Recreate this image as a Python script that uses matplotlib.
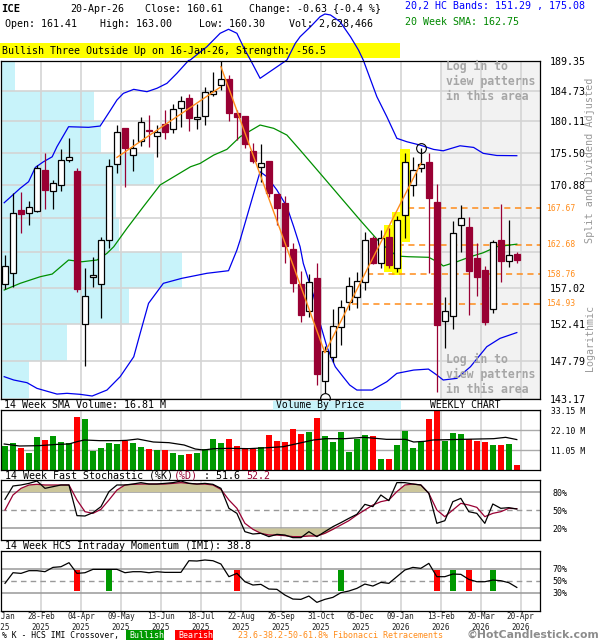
import numpy as np
import matplotlib
matplotlib.use("Agg")
import matplotlib.pyplot as plt
from matplotlib.patches import Rectangle
from matplotlib.transforms import blended_transform_factory
from matplotlib.ticker import NullLocator, NullFormatter

plt.rcParams['font.family'] = ['DejaVu Sans Mono', 'DejaVu Sans']

# ---- weekly candles (ICE, 31-Jan-2025 .. 20-Apr-2026) ----
opens = [157.44, 158.88, 167.40, 166.94, 167.26, 173.02, 170.01, 170.94, 174.45, 172.88,
         152.37, 158.35, 157.44, 163.30, 173.83, 179.08, 175.17, 177.17, 178.79, 177.95,
         179.67, 178.93, 182.06, 183.57, 180.41, 180.96, 184.23, 185.56, 186.48, 181.31,
         180.90, 175.80, 173.40, 174.35, 169.64, 168.33, 162.05, 157.48, 154.00, 158.22,
         145.40, 148.27, 152.02, 155.19, 155.80, 157.78, 163.61, 160.27, 163.75, 159.53,
         166.71, 170.84, 173.26, 174.20, 168.55, 152.74, 153.37, 165.34, 165.03, 160.85,
         159.31, 154.22, 163.30, 160.50, 161.41]
highs = [161.30, 169.81, 169.87, 168.61, 173.73, 175.42, 171.60, 176.09, 177.65, 173.31,
         159.53, 161.07, 163.75, 174.59, 179.57, 179.08, 177.51, 180.73, 181.07, 179.57,
         181.81, 182.71, 183.93, 184.18, 182.71, 185.34, 187.57, 189.30, 187.15, 181.81,
         180.90, 176.97, 176.78, 174.35, 169.64, 169.36, 162.86, 159.22, 158.78, 160.28,
         149.62, 154.26, 155.41, 158.43, 159.09, 164.43, 163.84, 164.66, 164.89, 166.57,
         175.51, 174.84, 176.19, 175.42, 171.03, 155.83, 165.88, 168.09, 166.48, 162.86,
         159.84, 163.30, 168.23, 166.02, 161.70]
lows = [156.83, 157.13, 164.29, 165.37, 167.12, 167.58, 167.58, 170.09, 174.20, 156.48,
        147.21, 157.13, 153.08, 162.19, 172.64, 170.68, 172.92, 176.49, 176.39, 174.84,
        177.55, 178.35, 179.32, 178.73, 179.02, 179.64, 183.93, 184.84, 180.16, 177.36,
        176.15, 173.97, 171.36, 169.18, 165.32, 160.27, 156.40, 152.66, 153.21, 144.88,
        143.90, 147.69, 149.74, 154.13, 154.38, 156.70, 160.10, 159.53, 159.53, 159.09,
        163.53, 169.39, 172.74, 158.88, 144.04, 149.34, 151.70, 161.73, 153.50, 155.92,
        152.24, 153.79, 157.78, 159.75, 160.30]
closes = [159.84, 166.94, 166.81, 167.86, 173.26, 170.19, 171.14, 174.45, 174.84, 156.79,
          155.92, 158.65, 163.30, 173.59, 178.49, 176.24, 176.15, 179.99, 178.69, 178.54,
          178.49, 181.91, 183.22, 180.56, 180.80, 184.58, 184.73, 186.48, 181.31, 180.71,
          176.74, 174.35, 173.97, 169.73, 167.64, 162.53, 157.57, 153.50, 157.70, 146.20,
          149.01, 152.07, 154.48, 157.22, 157.87, 163.30, 160.27, 163.61, 159.97, 166.02,
          174.11, 172.98, 173.83, 169.02, 152.24, 153.96, 164.21, 166.25, 159.22, 158.43,
          152.66, 163.07, 160.54, 161.30, 160.61]
volumes = [13.26, 14.92, 12.16, 9.39, 18.23, 16.58, 18.79, 15.47, 14.92, 29.28,
           28.18, 10.50, 12.16, 14.92, 14.37, 16.20, 14.92, 12.71, 11.60, 11.05,
           11.05, 9.39, 8.29, 8.84, 9.39, 11.60, 17.13, 14.92, 17.13, 13.26,
           11.60, 11.60, 12.71, 19.34, 16.02, 15.47, 22.65, 19.89, 20.99, 28.73,
           18.79, 15.47, 20.99, 9.95, 17.13, 19.34, 18.79, 6.08, 6.08, 13.81,
           21.55, 12.16, 15.47, 28.18, 32.60, 16.02, 20.44, 19.89, 17.13, 16.02,
           15.47, 13.81, 13.81, 14.37, 2.76]

# ---- overlays (week index, value) ----
upper_k = [-0.1, 1.9, 2.95, 3.8, 4.8, 5.9, 6.5, 7.95, 10.45, 11.9, 13.2, 14.0, 14.8, 16.1,
           17.75, 19.0, 20.25, 21.5, 22.95, 23.16, 25.25, 26.9, 27.95, 29.0, 30.0, 30.7,
           31.9, 35.25, 36.3, 36.9, 38.2, 39.4, 40.0, 40.7, 41.9, 43.2, 44.2, 44.8, 46.5,
           47.75, 49.0, 50.25, 51.9, 53.6, 54.8, 56.9, 58.6, 59.8, 61.5, 64.0]
upper_p = [168.41, 170.43, 171.36, 173.40, 174.20, 174.92, 176.39, 179.32, 179.23, 179.42,
           181.81, 183.32, 184.33, 184.94, 184.58, 185.10, 185.86, 187.41, 189.40, 189.47,
           191.57, 193.70, 194.34, 193.70, 191.04, 189.47, 186.63, 189.47, 192.10, 193.15,
           194.75, 196.37, 196.81, 196.65, 195.56, 193.15, 191.04, 189.47, 183.82, 180.80,
           177.61, 177.11, 176.62, 175.99, 175.79, 176.52, 176.28, 175.42, 175.11, 175.08]
lower_k = [-0.1, 1.1, 2.75, 4.0, 6.5, 7.75, 9.4, 10.9, 12.75, 14.4, 16.1, 16.9, 17.95, 19.8,
           22.1, 25.25, 27.95, 29.0, 29.4, 31.1, 31.9, 32.75, 34.0, 35.25, 36.1, 36.9, 37.3,
           38.6, 39.4, 40.25, 41.3, 42.3, 43.1, 44.0, 45.9, 47.75, 49.0, 51.1, 52.95, 54.0,
           54.8, 56.5, 58.2, 60.25, 61.9, 64.0]
lower_p = [145.88, 145.48, 145.16, 144.48, 143.80, 143.89, 143.77, 143.57, 144.28, 145.88,
           148.30, 151.19, 154.99, 157.57, 158.22, 158.88, 159.22, 161.96, 163.30, 169.73,
           172.78, 172.07, 170.19, 167.86, 165.12, 162.40, 160.19, 155.92, 152.45, 149.54,
           147.08, 145.84, 144.88, 144.28, 144.28, 145.28, 146.28, 146.68, 146.80, 146.08,
           145.48, 145.68, 147.08, 149.54, 150.57, 151.29]
sma_k = [-0.1, 1.9, 4.4, 5.9, 7.95, 9.6, 11.5, 12.75, 13.6, 15.25, 17.3, 19.4, 23.2, 24.4,
         26.1, 27.75, 29.4, 31.9, 33.6, 35.25, 36.9, 39.4, 41.9, 44.4, 46.9, 49.0, 50.45,
         53.0, 54.4, 54.8, 56.5, 58.2, 59.8, 61.5, 64.0]
sma_p = [156.70, 157.57, 158.43, 158.78, 160.63, 160.40, 160.63, 161.52, 162.41, 164.89,
         167.86, 170.90, 173.49, 173.97, 175.17, 176.00, 177.84, 179.57, 179.08, 178.09,
         175.90, 172.55, 169.25, 166.02, 162.94, 161.16, 161.07, 160.99, 160.19, 159.84,
         160.40, 161.07, 161.60, 162.41, 162.75]
zig_a_k = [14.0, 26.9]
zig_a_p = [174.84, 185.25]
zig_b_k = [27.0, 40.0, 52.0]
zig_b_p = [188.43, 148.80, 173.97]
fib_levels = [167.67, 162.68, 158.76, 154.93]
fib_start = [50.4, 47.75, 45.25, 43.4]
pattern_k = [48, 49, 50]
swing_high = (52, 176.15)
swing_low = (40, 143.33)

price_ticks = [189.35, 184.73, 180.11, 175.50, 170.88, 166.26, 161.64, 157.02, 152.41, 147.79, 143.17]
price_labels = ['189.35', '184.73', '180.11', '175.50', '170.88', '', '', '157.02', '152.41', '147.79', '143.17']
vbp_volume = [14, 93, 100, 153, 115, 118, 181, 128, 66, 28]   # top band first

vsma_k = [-0.1, 1.8, 4.2, 6.6, 8.0, 9.0, 9.9, 11.85, 14.2, 15.2, 16.6, 18.55, 20.5, 22.4,
          23.8, 24.8, 26.2, 28.1, 30.5, 32.9, 34.8, 36.7, 38.6, 40.1, 42.5, 44.9, 46.8,
          47.7, 50.1, 51.1, 52.5, 53.5, 55.4, 57.3, 59.2, 61.1, 62.6, 64.0]
vsma_v = [14.37, 13.26, 13.44, 14.18, 14.37, 15.65, 16.58, 16.21, 16.21, 16.39, 17.13,
          15.47, 15.10, 13.81, 11.60, 11.05, 11.79, 11.97, 11.79, 12.34, 12.89, 14.73,
          16.58, 17.31, 17.31, 18.05, 17.31, 16.94, 16.94, 15.47, 15.84, 16.58, 16.76,
          16.94, 17.13, 17.31, 18.05, 16.81]

stoch_k = [67.8, 90.0, 91.7, 94.4, 98.3, 86.1, 88.9, 91.7, 91.7, 40.6, 40.0, 45.6, 55.6,
           80.6, 91.7, 91.7, 93.3, 95.6, 93.3, 93.3, 94.4, 95.6, 98.3, 94.4, 93.3, 94.4,
           92.8, 86.1, 52.8, 44.4, 13.9, 10.0, 11.1, 5.6, 9.4, 8.3, 3.9, 3.9, 13.9, 5.6,
           13.9, 22.2, 28.9, 36.1, 42.8, 59.4, 55.6, 75.0, 65.6, 95.6, 95.6, 93.3, 91.7,
           77.8, 27.8, 32.2, 63.9, 69.4, 47.2, 44.4, 27.8, 60.0, 52.8, 53.9, 51.6]
stoch_d = [50.0, 75.0, 86.1, 91.7, 92.8, 91.7, 91.7, 91.7, 91.7, 66.7, 47.2, 44.4, 51.1,
           66.7, 83.3, 91.7, 92.8, 93.3, 93.3, 93.3, 93.3, 94.4, 95.6, 94.4, 93.3, 93.3,
           91.7, 84.4, 66.7, 52.8, 27.8, 17.8, 11.1, 8.3, 8.3, 7.2, 5.6, 5.6, 6.7, 6.7,
           11.1, 17.8, 25.0, 32.2, 41.7, 50.0, 58.3, 63.9, 66.7, 80.6, 91.7, 93.3, 91.7,
           77.8, 50.0, 38.9, 50.0, 61.1, 58.3, 54.4, 38.9, 44.4, 47.2, 52.8, 52.2]
imi = [45.6, 63.3, 62.2, 66.7, 66.7, 65.0, 72.2, 73.3, 80.0, 62.2, 63.3, 68.9, 68.9, 68.9,
       68.9, 63.3, 65.0, 65.0, 63.3, 65.0, 63.9, 63.9, 63.9, 83.3, 82.8, 84.5, 83.3, 77.8,
       56.7, 62.2, 48.3, 42.8, 43.9, 36.1, 35.6, 26.1, 19.4, 18.9, 24.4, 13.9, 18.9, 22.2,
       30.0, 32.8, 37.2, 44.4, 41.1, 47.2, 45.6, 56.7, 67.8, 72.2, 70.6, 78.9, 56.7, 56.7,
       61.1, 60.6, 52.2, 48.3, 48.3, 51.1, 50.0, 46.7, 38.8]
cross_k = [9, 13, 29, 42, 54, 56, 58, 61]
cross_bull = [False, True, False, True, False, True, False, True]

date_labels = ['31-Jan\n2025', '28-Feb\n2025', '04-Apr\n2025', '09-May\n2025', '13-Jun\n2025',
               '18-Jul\n2025', '22-Aug\n2025', '26-Sep\n2025', '31-Oct\n2025', '05-Dec\n2025',
               '09-Jan\n2026', '13-Feb\n2026', '20-Mar\n2026', '20-Apr\n2026']

# ---- styling ----
W, H = 600, 640
maroon = '#990033'
up_green = '#009900'
dn_red = '#ff0000'
band_blue = '#0000ee'
sma_green = '#008f00'
orange = '#ff8c1a'
olive = '#ccc69a'
grid_col = '#d4d4d4'
xlim = (-0.46, 66.9)
grid_k = np.arange(-0.5, 65, 5)
idx = np.arange(len(closes))

fig = plt.figure(figsize=(6, 6.4), dpi=100)


def px_axes(x0, y0, x1, y1):
    return fig.add_axes([x0 / W, 1 - y1 / H, (x1 - x0) / W, (y1 - y0) / H])


def ftext(x, y, s, **kw):
    kw.setdefault('size', 7.2)
    return fig.text(x / W, 1 - y / H, s, va='center', **kw)


def frame(a):
    for sp in a.spines.values():
        sp.set_color('black')
        sp.set_linewidth(0.9)
    a.set_xlim(*xlim)
    a.set_xticks(grid_k)
    a.tick_params(length=0, labelsize=6)
    a.grid(axis='x', color=grid_col, lw=1.2)
    a.set_axisbelow(True)


# ================= price panel =================
ax = px_axes(1, 60.8, 540, 399.4)
ax.set_yscale('log')
ax.set_ylim(143.17, 189.35)
frame(ax)
ax.set_xticklabels([])
ax.yaxis.tick_right()
ax.set_yticks(price_ticks)
ax.set_yticklabels(price_labels)
ax.yaxis.set_minor_locator(NullLocator())
ax.yaxis.set_minor_formatter(NullFormatter())
ax.tick_params(axis='y', labelsize=7.2, pad=6.7)
ax.grid(axis='y', color=grid_col, lw=1.2)

# volume by price
blend = blended_transform_factory(ax.transAxes, ax.transData)
for i, v in enumerate(vbp_volume):
    top, bot = price_ticks[i], price_ticks[i + 1]
    ax.add_patch(Rectangle((0, bot), v / 539, top - bot, transform=blend,
                           facecolor='#c8f3fa', edgecolor='none', zorder=0.2))

# members-only area
ax.axvspan(54.5, xlim[1], color='#f2f2f2', zorder=0.1, lw=0)
for yy in (66.7, 359.3):
    for j, line in enumerate(['Log in to', 'view patterns', 'in this area']):
        ftext(446.5, yy + 15 * j, line, color='#a6a6a6', weight='bold', size=8.3)

# pattern highlight
for k in pattern_k:
    lo, hi = lows[k] * 0.997, highs[k] * 1.003
    ax.add_patch(Rectangle((k - 0.66, lo), 1.32, hi - lo, facecolor='#ffff00',
                           edgecolor='none', zorder=1))

# fibonacci levels
for lvl, k0 in zip(fib_levels, fib_start):
    ax.hlines(lvl, k0, xlim[1], colors=orange, linestyles=(0, (4, 3)), lw=1.1, zorder=2)
    ax.text(1 + 6 / 539, lvl, f'{lvl:.2f}', transform=blend, color=orange,
            size=5.8, va='center', ha='left', clip_on=False)

ax.plot(upper_k, upper_p, color=band_blue, lw=0.9, zorder=2, clip_on=False)
ax.plot(lower_k, lower_p, color=band_blue, lw=0.9, zorder=2)
ax.plot(sma_k, sma_p, color=sma_green, lw=0.9, zorder=2)
ax.plot(zig_a_k, zig_a_p, color=orange, lw=1.0, zorder=5)
ax.plot(zig_b_k, zig_b_p, color=orange, lw=1.0, zorder=5)

# candles
bw = 0.68
for i in idx:
    o, h, l, c = opens[i], highs[i], lows[i], closes[i]
    up = c >= o
    col = 'black' if up else maroon
    ax.vlines(i, l, h, colors=col, lw=0.9, zorder=3)
    lo_b, hi_b = min(o, c), max(o, c)
    if hi_b - lo_b < 0.15:
        hi_b = lo_b + 0.15
    ax.add_patch(Rectangle((i - bw / 2, lo_b), bw, hi_b - lo_b,
                           facecolor='white' if up else maroon, edgecolor=col,
                           lw=0.9, zorder=4))

ax.plot(*swing_high, marker='o', ms=7, mfc='none', mec='black', mew=0.8, zorder=6)
ax.plot(*swing_low, marker='o', ms=7, mfc='none', mec='black', mew=0.8, zorder=6,
        clip_on=False)

fig.text(590 / W, 1 - 160 / H, 'Split and Dividend Adjusted', rotation=90,
         color='#999999', size=7.3, ha='center', va='center')
fig.text(590 / W, 1 - 338 / H, 'Logarithmic', rotation=90,
         color='#999999', size=7.2, ha='center', va='center')

# ================= header =================
ftext(1, 9.3, 'ICE', weight='bold', size=7.6)
ftext(70, 9.3, '20-Apr-26')
ftext(145, 9.3, 'Close: 160.61')
ftext(249, 9.3, 'Change: -0.63 {-0.4 %}')
ftext(5, 24, 'Open: 161.41')
ftext(100, 24, 'High: 163.00')
ftext(199, 24, 'Low: 160.30')
ftext(289, 24, 'Vol: 2,628,466')
ftext(405, 6.5, '20,2 HC Bands: 151.29 , 175.08', color='#0000ff')
ftext(405, 21.7, '20 Week SMA: 162.75', color='#008800')
fig.add_artist(Rectangle((0, 1 - 57.7 / H), 400 / W, 14.4 / H, transform=fig.transFigure,
                         facecolor='#ffff00', edgecolor='none', zorder=0))
ftext(2, 51, 'Bullish Three Outside Up on 16-Jan-26, Strength: -56.5')

# ================= volume panel =================
av = px_axes(1, 410, 540, 470)
frame(av)
av.set_xticklabels([])
av.set_ylim(0, 33.15)
av.yaxis.tick_right()
av.set_yticks([11.05, 22.10, 33.15])
av.set_yticklabels(['11.05 M', '22.10 M', '33.15 M'])
av.tick_params(axis='y', labelsize=5.8, pad=8)
av.grid(axis='y', color='#aaaaaa', lw=1.0)
vcols = [up_green if c >= o else dn_red for o, c in zip(opens, closes)]
av.bar(idx, volumes, width=0.74, color=vcols, zorder=2)
av.plot(vsma_k, vsma_v, color='black', lw=0.9, zorder=3)

ftext(4, 405.5, '14 Week SMA Volume: 16.81 M', size=7.2)
fig.add_artist(Rectangle((273 / W, 1 - 410 / H), 128 / W, 9.5 / H, transform=fig.transFigure,
                         facecolor='#c8f3fa', edgecolor='none'))
ftext(275.5, 405.5, 'Volume By Price', size=7.0)
ftext(429.5, 405.5, 'WEEKLY CHART', size=7.0)

# ================= stochastic panel =================
ast = px_axes(1, 480, 540, 540)
frame(ast)
ast.set_xticklabels([])
ast.set_ylim(0, 100)
ast.yaxis.tick_right()
ast.set_yticks([20, 50, 80])
ast.set_yticklabels(['20%', '50%', '80%'])
ast.tick_params(axis='y', labelsize=6, pad=9)
for lvl in (20, 80):
    ast.axhline(lvl, color='#999999', lw=1.1, zorder=1)
ast.axhline(50, color='#999999', lw=1.0, ls=(0, (4, 3)), zorder=1)
sd = np.array(stoch_d)
ast.fill_between(idx, sd, 80, where=sd >= 80, interpolate=True, color=olive, lw=0, zorder=1.5)
ast.fill_between(idx, sd, 20, where=sd <= 20, interpolate=True, color=olive, lw=0, zorder=1.5)
ast.plot(idx, stoch_d, color=maroon, lw=0.9, zorder=3)
ast.plot(idx, stoch_k, color='black', lw=0.9, zorder=4)

ftext(4.6, 476, '14 Week Fast Stochastic (%K)')
ftext(174, 476, '(%D)', color=maroon)
ftext(198.2, 476, ' : 51.6')
ftext(246.6, 476, '52.2', color=maroon)

# ================= IMI panel =================
ai = px_axes(1, 550.7, 540, 610.7)
frame(ai)
ai.set_ylim(0, 100)
ai.set_xticklabels(date_labels, linespacing=1.2)
ai.tick_params(axis='x', labelsize=5.5, pad=1.2, colors='#222222')
ai.yaxis.tick_right()
ai.set_yticks([30, 50, 70])
ai.set_yticklabels(['30%', '50%', '70%'])
ai.tick_params(axis='y', labelsize=6, pad=9)
for lvl in (30, 70):
    ai.axhline(lvl, color='#999999', lw=1.1, zorder=1)
ai.axhline(50, color='#999999', lw=1.0, ls=(0, (4, 3)), zorder=1)
ai.bar(cross_k, 35, bottom=33, width=0.75,
       color=[up_green if b else dn_red for b in cross_bull], zorder=2)
ai.plot(idx, imi, color='black', lw=0.9, zorder=3)
ftext(4.6, 546, '14 Week HCS Intraday Momentum (IMI): 38.8')

# ================= legend line =================
ftext(2, 635.5, '% K - HCS IMI Crossover,', size=5.9)
fig.add_artist(Rectangle((125.5 / W, 1 - 640 / H), 38.5 / W, 10 / H, transform=fig.transFigure,
                         facecolor=up_green, edgecolor='none'))
ftext(129, 635.5, 'Bullish', size=6, color='white')
fig.add_artist(Rectangle((175 / W, 1 - 640 / H), 38 / W, 10 / H, transform=fig.transFigure,
                         facecolor=dn_red, edgecolor='none'))
ftext(178, 635.5, 'Bearish', size=6, color='white')
ftext(238, 635.5, '23.6-38.2-50-61.8% Fibonacci Retracements', size=6, color=orange)
fig.text(599 / W, 1 - 635 / H, '\u00a9HotCandlestick.com', family='DejaVu Sans',
         weight='bold', size=7.8, color='#8c8c8c', ha='right', va='center')

fig.savefig('out.png', dpi=100)
